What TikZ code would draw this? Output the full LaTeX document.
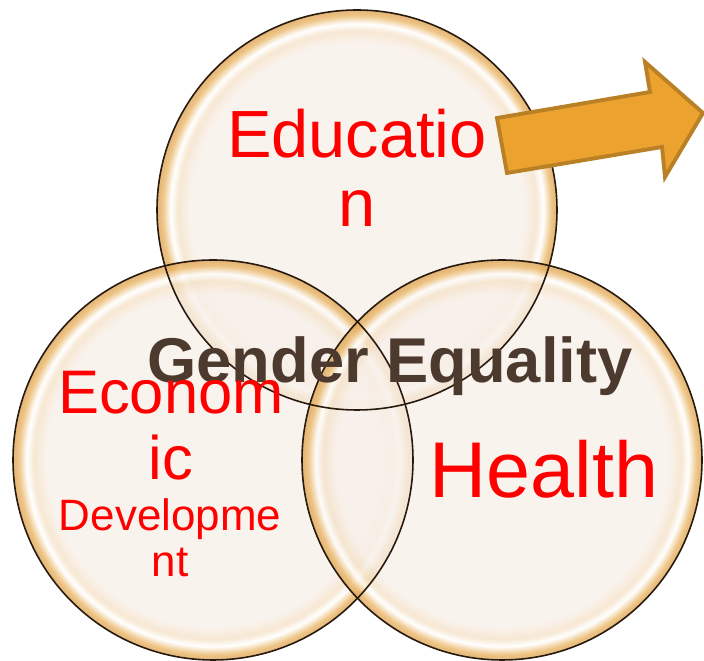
\documentclass[tikz,border=0pt]{standalone}
\usepackage{fontspec}
\setmainfont{Liberation Sans}
\definecolor{bubblein}{HTML}{F8F0EA}
\definecolor{bubblemid}{HTML}{F5E2C8}
\definecolor{bubblerim}{HTML}{EAB86A}
\definecolor{bubbleedge}{HTML}{DDA255}
\definecolor{arrowfill}{HTML}{EBA22F}
\definecolor{arrowline}{HTML}{B98025}
\definecolor{gendertext}{HTML}{4D3A2F}
\pgfdeclareradialshading{bubble}{\pgfpoint{0bp}{0bp}}{color(0bp)=(bubblein); color(20.8bp)=(bubblein); color(22.4bp)=(bubblemid); color(23.3bp)=(white); color(24.3bp)=(bubblerim); color(25bp)=(bubbleedge); color(50bp)=(bubbleedge)}
\tikzset{
  circ/.style={circle, minimum size=8cm, inner sep=0pt, shade, shading=bubble, fill opacity=0.8},
  rim/.style={circle, minimum size=8cm, inner sep=0pt, draw=black!80!brown, line width=0.9pt},
  label/.style={text=red, align=center, anchor=base}
}
\begin{document}
\begin{tikzpicture}
\useasboundingbox (0,0) rectangle (14.08,13.22);
\node[circ] (edu) at (7.14,9.02) {};
\node[circ] (econ) at (4.26,4.02) {};
\node[circ] (health) at (10.04,4.02) {};
\node[rim] at (edu) {};
\node[rim] at (econ) {};
\node[rim] at (health) {};

\node[label, font=\fontsize{38}{39.8}\selectfont] (edutext) at (7.14,8.68) {Educatio\\n};
\node[text=gendertext, anchor=base, font=\fontsize{36}{40}\selectfont\bfseries] (gender) at (7.80,5.56) {Gender Equality};
\node[label, font=\fontsize{35}{38}\selectfont] (econtext) at (3.42,3.62) {Econom\\ic};
\node[label, font=\fontsize{25}{26.7}\selectfont] (devtext) at (3.40,1.68) {Developme\\nt};
\node[label, font=\fontsize{45}{48}\selectfont] (healthtext) at (10.88,3.26) {Health};

\draw[fill=arrowfill, draw=arrowline, line width=2.2pt, line join=miter]
  (9.94,10.86) -- (13.00,11.38) -- (12.90,11.98) -- (14.06,10.96)
  -- (13.30,9.68) -- (13.24,10.28) -- (10.14,9.76) -- cycle;
\end{tikzpicture}
\end{document}
